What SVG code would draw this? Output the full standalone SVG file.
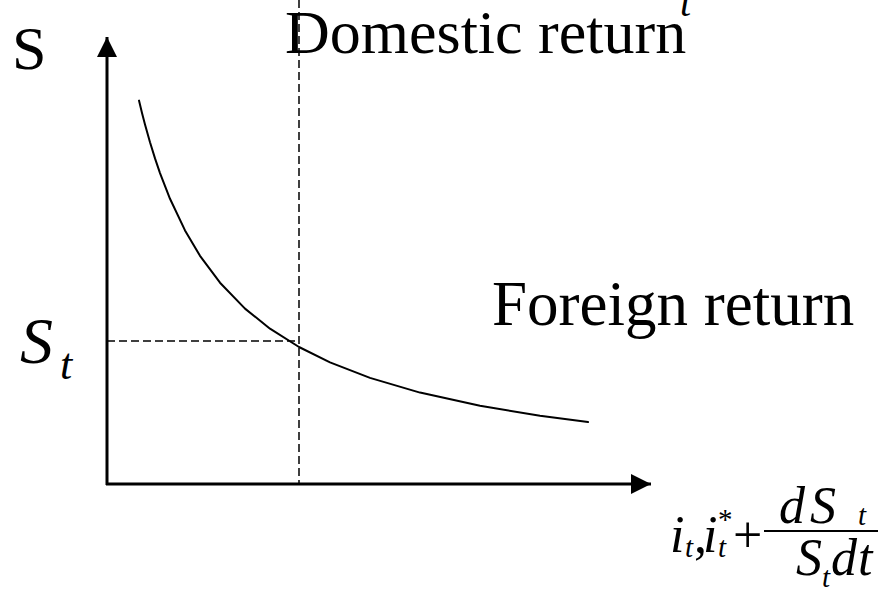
<svg xmlns="http://www.w3.org/2000/svg" width="881" height="593" viewBox="0 0 881 593" font-family="Liberation Serif, Times New Roman, serif">
<defs>
<style>
text{font-family:'Liberation Serif','Times New Roman',serif;fill:#000}
.it{font-style:italic}
.axis{stroke:#000;stroke-width:3;fill:none}
.dash{stroke:#000;stroke-width:1.5;stroke-dasharray:8,4;fill:none}
.curve{stroke:#000;stroke-width:2;fill:none;stroke-linejoin:round;stroke-linecap:round}
</style>
<marker id="arrow" viewBox="0 0 20 20" refX="20" refY="10" markerWidth="20" markerHeight="20" markerUnits="userSpaceOnUse" orient="auto">
<path d="M0,0 L20,10 L0,20 Z" fill="#000"/>
</marker>
</defs>
<rect width="881" height="593" fill="#fff"/>
<g id="connectors">
<line id="y-axis" class="axis" x1="107" y1="485" x2="107" y2="37" marker-end="url(#arrow)"/>
<line id="x-axis" class="axis" x1="106" y1="484" x2="651" y2="484" marker-end="url(#arrow)"/>
<line id="v-dash" class="dash" x1="299" y1="0" x2="299" y2="484"/>
<line id="h-dash" class="dash" x1="107" y1="341" x2="299" y2="341"/>
<polyline id="curve" class="curve" points="139,100.6 142,113 145,124.5 150,142.3 155,158.4 160,173.1 170,198.8 185,230.4 200,255.8 220,282.7 245,308.6 270,328.7 299,347 330,362.4 370,377.9 420,392.6 480,405.8 540,415.7 588,422.1"/>
</g>
<g id="label-S"><text x="12" y="69" font-size="62">S</text></g>
<g id="label-domestic"><text x="285" y="53" font-size="62">Domestic return</text></g>
<g id="label-top-t"><text class="it" x="680" y="16" font-size="40">t</text></g>
<g id="label-foreign"><text x="492" y="325" font-size="63">Foreign return</text></g>
<g id="label-St"><text class="it" x="20" y="363" font-size="66">S</text><text class="it" x="60" y="379" font-size="44">t</text></g>
<g id="label-formula">
<text class="it" x="670" y="552" font-size="52">i</text>
<text class="it" x="685" y="557" font-size="29">t</text>
<text x="694" y="552" font-size="52">,</text>
<text class="it" x="703" y="552" font-size="52">i</text>
<text x="718" y="529" font-size="29">*</text>
<text class="it" x="718" y="557" font-size="29">t</text>
<text x="733" y="552" font-size="52">+</text>
<line x1="764" y1="531" x2="878" y2="531" stroke="#000" stroke-width="2"/>
<text class="it" x="779" y="523" font-size="52">d</text>
<text class="it" x="810" y="523" font-size="52">S</text>
<text class="it" x="858" y="525" font-size="29">t</text>
<text class="it" x="796" y="575" font-size="52">S</text>
<text class="it" x="822" y="587" font-size="29">t</text>
<text class="it" x="831" y="575" font-size="52">d</text>
<text class="it" x="858" y="575" font-size="52">t</text>
</g>
</svg>
